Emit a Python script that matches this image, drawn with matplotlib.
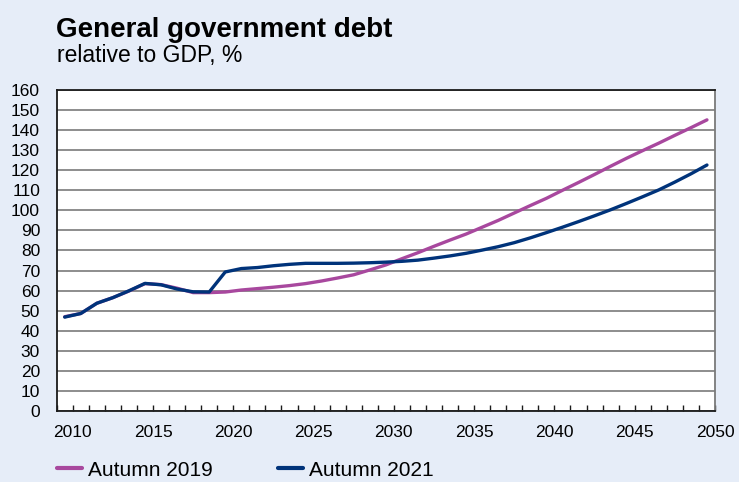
import matplotlib
matplotlib.use("Agg")
import matplotlib.pyplot as plt
from matplotlib.ticker import MultipleLocator
import numpy as np

plt.rcParams['font.family'] = ['Liberation Sans', 'DejaVu Sans']

years = list(range(2010, 2051))

autumn_2019 = [
    47.0, 48.6, 53.7, 56.5, 59.8, 63.5, 63.0, 61.2, 59.0, 59.0,
    59.3, 60.3, 61.0, 61.7, 62.5, 63.5, 64.8, 66.3, 67.9, 70.3,
    72.8, 75.9, 78.9, 82.1, 85.2, 88.2, 91.6, 95.0, 98.7, 102.4,
    106.0, 110.0, 113.9, 117.9, 122.0, 126.0, 129.8, 133.5, 137.4, 141.2,
    145.1,
]

autumn_2021 = [
    46.8, 48.6, 53.7, 56.5, 59.9, 63.6, 62.9, 60.8, 59.4, 59.3,
    69.3, 71.0, 71.5, 72.4, 73.1, 73.6, 73.6, 73.6, 73.7, 73.9,
    74.2, 74.6, 75.2, 76.2, 77.3, 78.6, 80.2, 81.9, 83.9, 86.3,
    88.9, 91.6, 94.4, 97.3, 100.3, 103.5, 106.8, 110.2, 114.1, 118.2,
    122.6,
]

series_labels = ["Autumn 2019", "Autumn 2021"]
series_colors = ["#a8489e", "#00337a"]

title = "General government debt"
subtitle = "relative to GDP, %"

bg = "#e6edf8"

fig = plt.figure(figsize=(7.39, 4.82), dpi=100, facecolor=bg)
ax = fig.add_axes([0.0767, 0.1473, 0.8908, 0.666])
ax.set_facecolor("white")

# each year's value sits in the middle of its yearly slot
x = np.array(years) - 0.5
for vals, lab, col in zip([autumn_2019, autumn_2021], series_labels, series_colors):
    ax.plot(x, vals, color=col, lw=2.4, label=lab, solid_capstyle="round",
            solid_joinstyle="round")

ax.set_xlim(2009, 2050)
ax.set_ylim(0, 160)
ax.yaxis.set_major_locator(MultipleLocator(10))
ax.xaxis.set_minor_locator(MultipleLocator(1))
ax.set_xticks(range(2010, 2051, 5))

ax.grid(axis="y", color="#7a7a7a", lw=1.2)
ax.set_axisbelow(True)

for side in ["left", "bottom", "top"]:
    ax.spines[side].set_color("#1a1a1a")
    ax.spines[side].set_linewidth(1.3)
ax.spines["right"].set_color("#7a7a7a")
ax.spines["right"].set_linewidth(1.3)

ax.tick_params(axis="y", length=0, pad=12, labelsize=12.5)
ax.tick_params(axis="x", which="major", direction="in", length=4, width=1,
               color="#1a1a1a", pad=10, labelsize=12.5)
ax.tick_params(axis="x", which="minor", direction="in", length=4, width=1,
               color="#1a1a1a")

fig.text(56 / 739, 1 - 37 / 482, title, fontsize=20, fontweight="bold",
         ha="left", va="baseline")
fig.text(57 / 739, 1 - 62 / 482, subtitle, fontsize=16.5, ha="left", va="baseline")

leg = fig.legend(loc="center left", bbox_to_anchor=(57 / 739, 12 / 482), ncol=2,
                 frameon=False, fontsize=15, handlelength=1.2,
                 handletextpad=0.3, columnspacing=3.1, borderpad=0,
                 borderaxespad=0)
for line in leg.get_lines():
    line.set_linewidth(3)

fig.savefig("out.png", dpi=100, facecolor=bg)
